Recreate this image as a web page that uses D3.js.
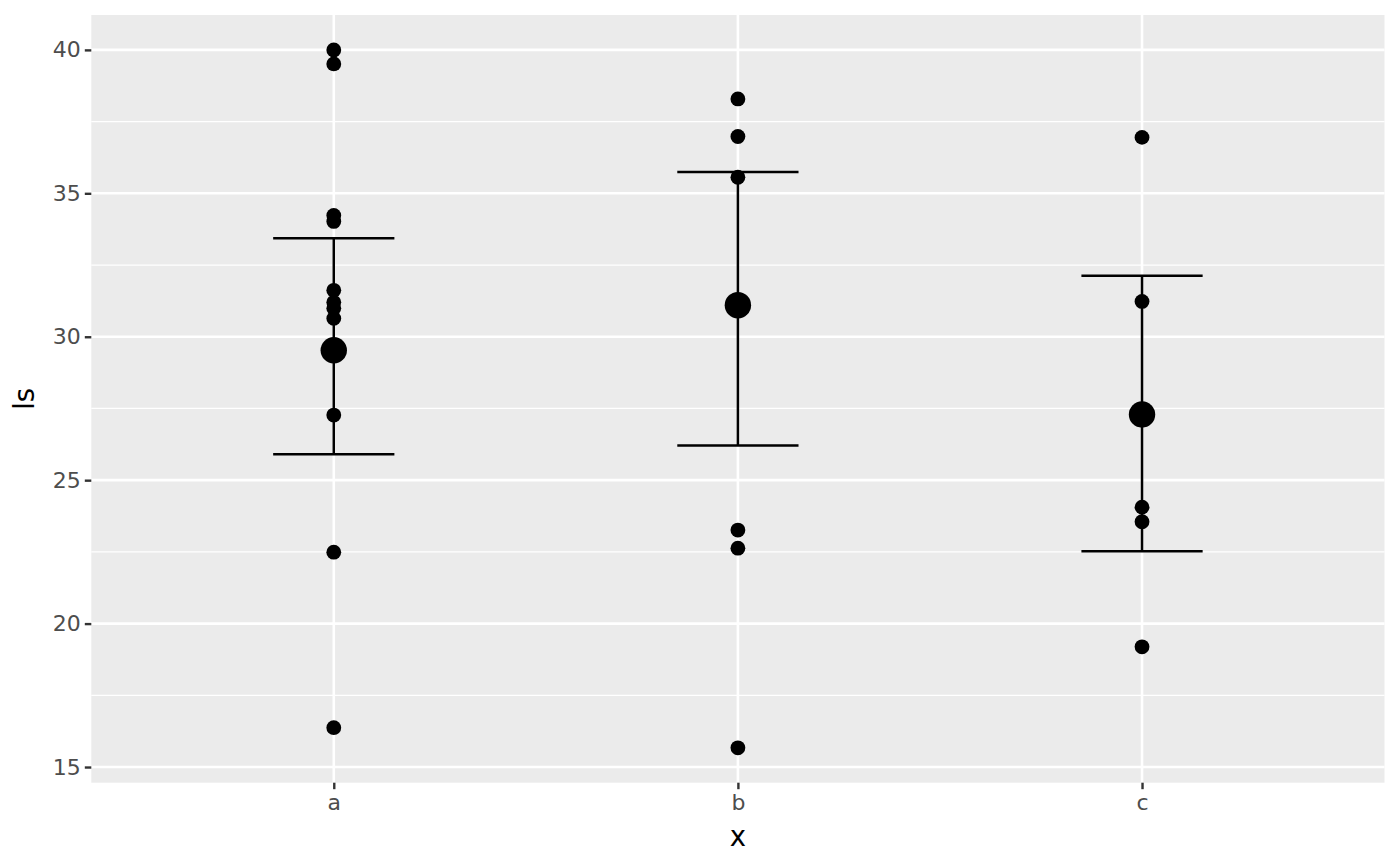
<!DOCTYPE html>
<html>
<head>
<meta charset="utf-8">
<script src="https://cdn.jsdelivr.net/npm/d3@7"></script>
<style>
  body { margin: 0; background: #fff; }
  text { font-family: "DejaVu Sans", sans-serif; }
</style>
</head>
<body>
<div id="chart"></div>
<script>
// data
var groups = ["a", "b", "c"];
var valuesA = [40.0, 39.51, 34.23, 34.02, 31.62, 31.2, 30.99, 30.64, 27.27, 22.49, 16.37];
var valuesB = [38.29, 36.98, 35.56, 23.26, 22.63, 15.67];
var valuesC = [36.95, 31.23, 24.06, 23.55, 19.19];
var meanValues = [29.53, 31.10, 27.29];
var lowerValues = [25.90, 26.21, 22.52];
var upperValues = [33.43, 35.74, 32.13];
var yTicks = [15, 20, 25, 30, 35, 40];
var yMinorTicks = [17.5, 22.5, 27.5, 32.5, 37.5];

var svgWidth = 1400;
var svgHeight = 866;

var margin = {
  top: 15,
  right: 15.5,
  bottom: 83.3,
  left: 91.3
};

var width = svgWidth - margin.left - margin.right;
var height = svgHeight - margin.top - margin.bottom;

var svg = d3.select("#chart")
  .append("svg")
  .attr("width", svgWidth)
  .attr("height", svgHeight);

var chartGroup = svg.append("g")
  .attr("transform", `translate(${margin.left}, ${margin.top})`);

var points = [];
[valuesA, valuesB, valuesC].forEach(function(vals, i) {
  vals.forEach(function(v) {
    points.push({ group: groups[i], value: v });
  });
});

var summary = groups.map(function(g, i) {
  return { group: g, mean: meanValues[i], lower: lowerValues[i], upper: upperValues[i] };
});

// ggplot style scales: 0.6 expansion on discrete, 5% on continuous
var xScale = d3.scalePoint()
  .domain(groups)
  .range([0, width])
  .padding(0.6);

var yMin = d3.min(points, d => d.value);
var yMax = d3.max(points, d => d.value);
var yPad = (yMax - yMin) * 0.05;

var yScale = d3.scaleLinear()
  .domain([yMin - yPad, yMax + yPad])
  .range([height, 0]);

// panel background
chartGroup.append("rect")
  .attr("width", width)
  .attr("height", height)
  .attr("fill", "#ebebeb");

// grid lines
chartGroup.selectAll(".minor")
  .data(yMinorTicks)
  .enter()
  .append("line")
  .attr("x1", 0)
  .attr("x2", width)
  .attr("y1", d => yScale(d))
  .attr("y2", d => yScale(d))
  .attr("stroke", "#fff")
  .attr("stroke-width", 1.3);

chartGroup.selectAll(".majorY")
  .data(yTicks)
  .enter()
  .append("line")
  .attr("x1", 0)
  .attr("x2", width)
  .attr("y1", d => yScale(d))
  .attr("y2", d => yScale(d))
  .attr("stroke", "#fff")
  .attr("stroke-width", 2.6);

chartGroup.selectAll(".majorX")
  .data(groups)
  .enter()
  .append("line")
  .attr("x1", d => xScale(d))
  .attr("x2", d => xScale(d))
  .attr("y1", 0)
  .attr("y2", height)
  .attr("stroke", "#fff")
  .attr("stroke-width", 2.6);

// axes
var bottomAxis = d3.axisBottom(xScale).tickSize(6.5).tickPadding(5);
var leftAxis = d3.axisLeft(yScale).tickValues(yTicks).tickSize(6.5).tickPadding(4);

var xAxisG = chartGroup.append("g")
  .attr("transform", `translate(0, ${height})`)
  .call(bottomAxis);

var yAxisG = chartGroup.append("g")
  .call(leftAxis);

[xAxisG, yAxisG].forEach(function(g) {
  g.select(".domain").remove();
  g.selectAll(".tick line").attr("stroke", "#333").attr("stroke-width", 2.4);
  g.selectAll(".tick text")
    .attr("fill", "#4d4d4d")
    .style("font-size", "22px")
    .style("font-family", "DejaVu Sans, sans-serif");
});

// raw points
chartGroup.selectAll(".pt")
  .data(points)
  .enter()
  .append("circle")
  .attr("cx", d => xScale(d.group))
  .attr("cy", d => yScale(d.value))
  .attr("r", 7.4)
  .attr("fill", "#000");

// error bars
var barHalf = xScale.step() * 0.15;

chartGroup.selectAll(".errV")
  .data(summary)
  .enter()
  .append("line")
  .attr("x1", d => xScale(d.group))
  .attr("x2", d => xScale(d.group))
  .attr("y1", d => yScale(d.lower))
  .attr("y2", d => yScale(d.upper))
  .attr("stroke", "#000")
  .attr("stroke-width", 2.5);

["lower", "upper"].forEach(function(k) {
  chartGroup.selectAll(".err" + k)
    .data(summary)
    .enter()
    .append("line")
    .attr("x1", d => xScale(d.group) - barHalf)
    .attr("x2", d => xScale(d.group) + barHalf)
    .attr("y1", d => yScale(d[k]))
    .attr("y2", d => yScale(d[k]))
    .attr("stroke", "#000")
    .attr("stroke-width", 2.5);
});

// means
chartGroup.selectAll(".mean")
  .data(summary)
  .enter()
  .append("circle")
  .attr("cx", d => xScale(d.group))
  .attr("cy", d => yScale(d.mean))
  .attr("r", 13.2)
  .attr("fill", "#000");

// axis titles
chartGroup.append("text")
  .attr("x", width / 2)
  .attr("y", height + 63)
  .attr("text-anchor", "middle")
  .style("font-size", "27.5px")
  .attr("fill", "#000")
  .text("x");

chartGroup.append("text")
  .attr("transform", `translate(${-margin.left + 34}, ${height / 2}) rotate(-90)`)
  .attr("text-anchor", "middle")
  .style("font-size", "27.5px")
  .attr("fill", "#000")
  .text("ls");
</script>
</body>
</html>
